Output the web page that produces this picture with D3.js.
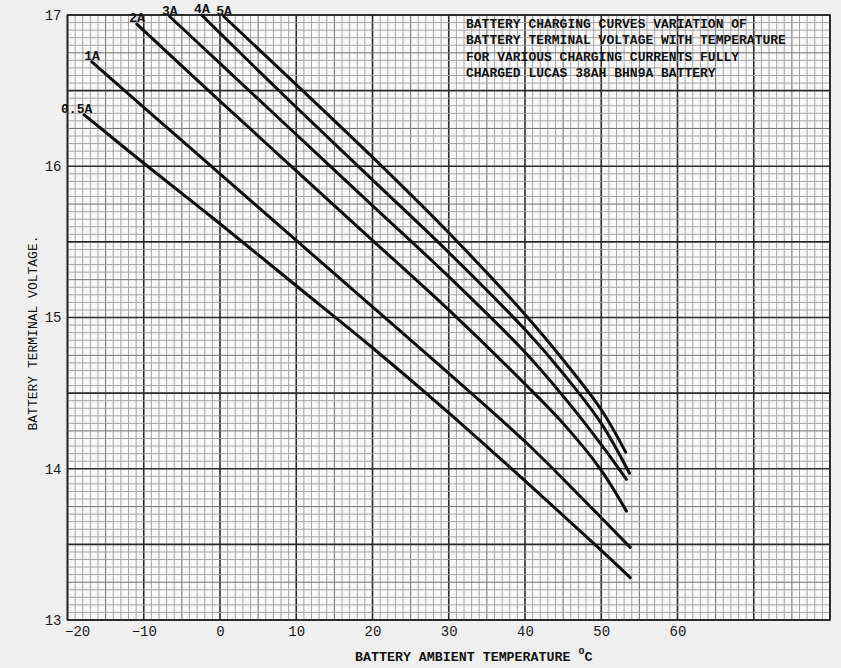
<!DOCTYPE html>
<html>
<head>
<meta charset="utf-8">
<script src="https://cdn.jsdelivr.net/npm/d3@7"></script>
<style>
  html, body { margin: 0; padding: 0; background: #efefef; }
  svg { display: block; }
</style>
</head>
<body>
<svg id="chart" width="841" height="668"></svg>
<script>
// ---- data ----
const tempTicks = [-20, -10, 0, 10, 20, 30, 40, 50, 60];
const voltTicks = [13, 14, 15, 16, 17];
const seriesNames = ["0.5A", "1A", "2A", "3A", "4A", "5A"];

const temps05 = [-17.8, -10, 0, 10, 20, 30, 40, 50, 53.8];
const volts05 = [16.34, 16.02, 15.62, 15.21, 14.80, 14.37, 13.92, 13.46, 13.28];

const temps1 = [-16.8, -10, 0, 10, 20, 30, 40, 47, 53.8];
const volts1 = [16.69, 16.39, 15.95, 15.51, 15.07, 14.63, 14.18, 13.83, 13.48];

const temps2 = [-10.9, 0, 10, 20, 30, 40, 45, 50, 53.3];
const volts2 = [16.94, 16.43, 15.97, 15.51, 15.05, 14.56, 14.30, 13.99, 13.72];

const temps3 = [-6.6, 0, 10, 20, 30, 40, 45, 50, 53.3];
const volts3 = [16.99, 16.68, 16.21, 15.74, 15.27, 14.77, 14.48, 14.16, 13.93];

const temps4 = [-2.4, 0, 10, 20, 30, 40, 45, 50, 53.7];
const volts4 = [17.0, 16.88, 16.39, 15.91, 15.43, 14.92, 14.63, 14.30, 13.97];

const temps5 = [0.5, 10, 20, 30, 40, 45, 50, 53.2];
const volts5 = [16.99, 16.54, 16.06, 15.56, 15.02, 14.72, 14.39, 14.11];

const titleLines = [
  "BATTERY CHARGING CURVES VARIATION OF",
  "BATTERY TERMINAL VOLTAGE WITH TEMPERATURE",
  "FOR VARIOUS CHARGING CURRENTS FULLY",
  "CHARGED LUCAS 38AH BHN9A BATTERY"
];
const xTitle = "BATTERY AMBIENT TEMPERATURE ";
const yTitle = "BATTERY TERMINAL VOLTAGE.";

const seriesTemps = [temps05, temps1, temps2, temps3, temps4, temps5];
const seriesVolts = [volts05, volts1, volts2, volts3, volts4, volts5];
const series = seriesNames.map((name, i) => ({
  name,
  points: seriesTemps[i].map((t, j) => [t, seriesVolts[i][j]])
}));

// ---- drawing ----
const FONT = "'Liberation Mono', 'DejaVu Sans Mono', monospace";
const svg = d3.select("#chart");
const x = d3.scaleLinear().domain([-20, 80]).range([67.5, 830]);
const y = d3.scaleLinear().domain([13, 17]).range([620, 15]);

// paper
svg.append("rect")
  .attr("x", x(-20)).attr("y", y(17))
  .attr("width", x(80) - x(-20)).attr("height", y(13) - y(17))
  .attr("fill", "#f8f8f8");

const grid = svg.append("g");
// vertical grid: every 1 °C
d3.range(-20, 81, 1).forEach(t => {
  const major = t % 10 === 0, mid = !major && t % 5 === 0;
  grid.append("line")
    .attr("x1", x(t)).attr("x2", x(t))
    .attr("y1", y(13)).attr("y2", y(17))
    .attr("stroke", major ? "#2a2a2a" : mid ? "#727272" : "#9c9c9c")
    .attr("stroke-width", major ? 1.6 : mid ? 1.0 : 0.9);
});
// horizontal grid: every 0.05 V
d3.range(0, 81, 1).forEach(i => {
  const v = 13 + i * 0.05;
  const major = i % 10 === 0, mid = !major && i % 5 === 0;
  grid.append("line")
    .attr("x1", x(-20)).attr("x2", x(80))
    .attr("y1", y(v)).attr("y2", y(v))
    .attr("stroke", major ? "#2a2a2a" : mid ? "#727272" : "#9c9c9c")
    .attr("stroke-width", major ? 1.6 : mid ? 1.0 : 0.9);
});
svg.append("rect")
  .attr("x", x(-20)).attr("y", y(17))
  .attr("width", x(80) - x(-20)).attr("height", y(13) - y(17))
  .attr("fill", "none").attr("stroke", "#222").attr("stroke-width", 1.6);

// axes (labels only)
const xAxis = svg.append("g")
  .attr("transform", `translate(0,${y(13)})`)
  .call(d3.axisBottom(x).tickValues(tempTicks).tickSize(0).tickPadding(6).tickFormat(d3.format("d")));
xAxis.select(".domain").remove();
xAxis.selectAll("text")
  .attr("font-family", FONT).attr("font-size", 14).attr("fill", "#1a1a1a")
  .attr("text-anchor", d => d === -20 ? "start" : "middle")
  .attr("dx", d => d === -20 ? -3 : 0);

const yAxis = svg.append("g")
  .attr("transform", `translate(${x(-20)},0)`)
  .call(d3.axisLeft(y).tickValues(voltTicks).tickSize(0).tickPadding(6).tickFormat(d3.format("d")));
yAxis.select(".domain").remove();
yAxis.selectAll("text")
  .attr("font-family", FONT).attr("font-size", 14).attr("fill", "#1a1a1a");

// curves
const line = d3.line()
  .x(d => x(d[0])).y(d => y(d[1]))
  .curve(d3.curveCatmullRom.alpha(0.5));

svg.append("g").selectAll("path")
  .data(series).join("path")
  .attr("d", d => line(d.points))
  .attr("fill", "none").attr("stroke", "#0d0d0d")
  .attr("stroke-width", 3).attr("stroke-linecap", "round");

// curve labels
svg.append("g").selectAll("text")
  .data(series).join("text")
  .attr("x", d => x(d.points[0][0]) + 8)
  .attr("y", d => y(d.points[0][1]) - 2)
  .attr("text-anchor", "end")
  .attr("font-family", FONT).attr("font-size", 13).attr("font-weight", "bold")
  .attr("fill", "#111")
  .text(d => d.name);

// title block
const tb = svg.append("text")
  .attr("font-family", FONT).attr("font-size", 13).attr("font-weight", "bold")
  .attr("fill", "#111");
titleLines.forEach((s, i) => {
  tb.append("tspan").attr("x", 466).attr("y", 28 + i * 16.3).text(s);
});

// axis titles
const xt = svg.append("text")
  .attr("x", 355).attr("y", 661)
  .attr("font-family", FONT).attr("font-size", 13.3).attr("font-weight", "bold")
  .attr("fill", "#111")
  .text(xTitle);
xt.append("tspan").attr("dy", -7).attr("font-size", 10).text("o");
xt.append("tspan").attr("dy", 7).text("C");

svg.append("text")
  .attr("transform", "translate(37,333) rotate(-90)")
  .attr("text-anchor", "middle")
  .attr("font-family", FONT).attr("font-size", 13)
  .attr("fill", "#111")
  .text(yTitle);
</script>
</body>
</html>
